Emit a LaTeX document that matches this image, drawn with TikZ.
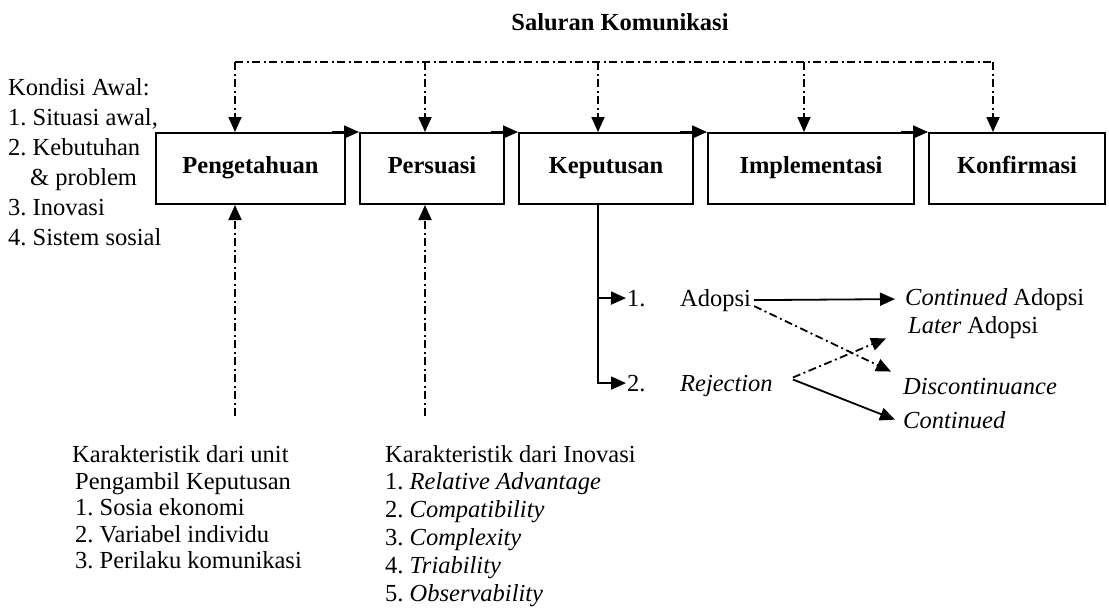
\documentclass[tikz,border=0pt]{standalone}
\usepackage{fontspec}
\setmainfont{Liberation Serif}
\usetikzlibrary{arrows.meta,calc}
\begin{document}
\frenchspacing
\begin{tikzpicture}[x=1pt,y=-1pt,
  every node/.style={font=\fontsize{24.5}{28}\selectfont},
  stage/.style={draw,line width=2pt,fill=white,minimum height=71pt,inner sep=0pt,
    text height=17pt,text depth=7pt,font=\fontsize{24.5}{28}\selectfont\bfseries},
  txt/.style={anchor=base west,inner sep=0pt},
  tip/.style={-{Triangle[length=15pt,width=13pt]}},
  dd/.style={line width=1.8pt,dash pattern=on 8pt off 3.5pt on 2pt off 3.5pt},
  sl/.style={line width=1.8pt}
]
\useasboundingbox[fill=white] (0,0) rectangle (1109,614);

% title
\node[font=\fontsize{24.5}{28}\selectfont\bfseries] (title) at (620,22) {Saluran Komunikasi};

% initial conditions (drawn before boxes so the first box covers them)
\node[txt] (k0) at (8,95)  {Kondisi Awal:};
\node[txt] (k1) at (8,125) {1. Situasi awal,};
\node[txt] (k2) at (8,155) {2. Kebutuhan};
\node[txt] (k3) at (30,185) {\& problem};
\node[txt] (k4) at (8,215) {3. Inovasi};
\node[txt] (k5) at (8,245) {4. Sistem sosial};

% stages
\node[stage,minimum width=189pt] (p1) at (250.5,168.5) {Pengetahuan};
\node[stage,minimum width=144pt] (p2) at (432,168.5) {Persuasi};
\node[stage,minimum width=174pt] (p3) at (606,168.5) {Keputusan};
\node[stage,minimum width=206pt] (p4) at (811,168.5) {Implementasi};
\node[stage,minimum width=176pt] (p5) at (1017,168.5) {Konfirmasi};

% arrows between stages along top edge
\foreach \a/\b in {p1/p2,p2/p3,p3/p4,p4/p5}
  \draw[sl,tip] ($(\a.north east)+(-14,0)$) -- (\b.north west);

% communication channel
\coordinate (c1) at (235,62);
\coordinate (c2) at (425,62);
\coordinate (c3) at (598,62);
\coordinate (c4) at (804,62);
\coordinate (c5) at (993,62);
\draw[dd] (c1) -- (c5);
\draw[dd,tip] (c1) -- (c1 |- p1.north);
\draw[dd,tip] (c2) -- (c2 |- p2.north);
\draw[dd,tip] (c3) -- (c3 |- p3.north);
\draw[dd,tip] (c4) -- (c4 |- p4.north);
\draw[dd,tip] (c5) -- (c5 |- p5.north);

% characteristics
\coordinate (u1) at (235,416);
\coordinate (u2) at (425,416);
\draw[dd,tip] (u1) -- (u1 |- p1.south);
\draw[dd,tip] (u2) -- (u2 |- p2.south);

\node[txt] (a0) at (72,462) {Karakteristik dari unit};
\node[txt] (a1) at (75,489) {Pengambil Keputusan};
\node[txt] (a2) at (75,515) {1. Sosia ekonomi};
\node[txt] (a3) at (75,542) {2. Variabel individu};
\node[txt] (a4) at (75,568) {3. Perilaku komunikasi};

\node[txt] (b0) at (385,462) {Karakteristik dari Inovasi};
\node[txt] (b1) at (385,489) {1. \textit{Relative Advantage}};
\node[txt] (b2) at (385,517) {2. \textit{Compatibility}};
\node[txt] (b3) at (385,545) {3. \textit{Complexity}};
\node[txt] (b4) at (385,573) {4. \textit{Triability}};
\node[txt] (b5) at (385,601) {5. \textit{Observability}};

% decision outcomes
\node[txt] (n1) at (627,306) {1.};
\node[txt] (ad) at (680,306) {Adopsi};
\node[txt] (n2) at (627,391) {2.};
\node[txt] (rj) at (680,391) {\textit{Rejection}};
\node[txt] (ca) at (905,305) {\textit{Continued} Adopsi};
\node[txt] (la) at (908,333) {\textit{Later} Adopsi};
\node[txt] (dc) at (903,394) {\textit{Discontinuance}};
\node[txt] (ct) at (903,428) {\textit{Continued}};

\coordinate (kd) at (598,298);
\draw[sl] (p3.south -| kd) -- (kd);
\draw[sl,tip] (kd) -- ($(n1.west)+(-1,0)$);
\draw[sl,tip] (kd) |- ($(n2.west)+(-1,0)$);

\draw[sl,tip] ($(ad.east)+(3,0)$) -- ($(ca.west)+(-10,0)$);
\draw[dd,tip] ($(ad.east)+(3,6)$) -- ($(dc.north west)+(-12,-6)$);
\draw[dd,tip] ($(rj.east)+(20,-8)$) -- ($(la.south west)+(-22,0)$);
\draw[sl,tip] ($(rj.east)+(20,-6)$) -- ($(ct.west)+(-8,0)$);
\end{tikzpicture}
\end{document}
